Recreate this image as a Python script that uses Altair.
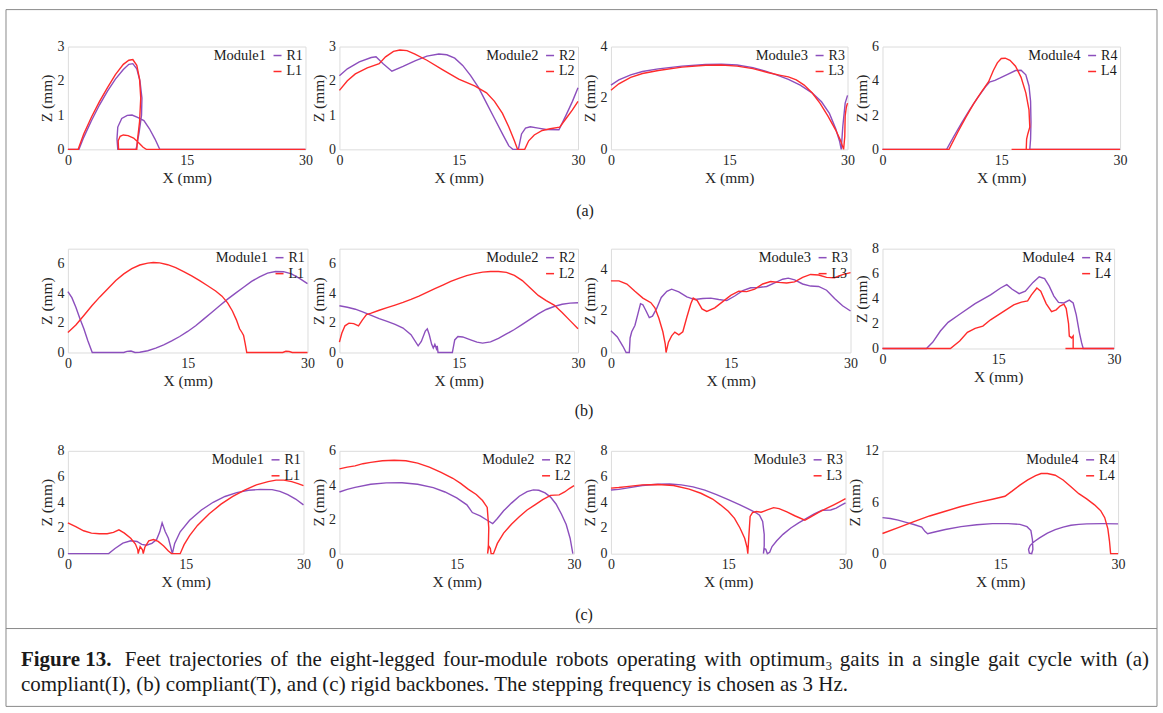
import altair as alt
import pandas as pd

FONT = "Liberation Serif"
PURPLE = "#8c4fbd"
RED = "#ff2b2b"
TXT = "#262626"

# ---------------- data: (X, Z) foot trajectories in drawing order ----------------
# row (a): compliant(I)
a1_R = [(0,0),(1.4,0),(2,0.35),(3,0.85),(4,1.3),(5,1.7),(6,2.05),(7,2.33),(7.7,2.48),(8.2,2.5),(8.7,2.35),(9.1,2.0),(9.35,1.5),(9.3,1.0),(9.0,0.5),(8.7,0.1),(8.6,0),(6.3,0),(6.2,0.3),(6.3,0.65),(6.8,0.9),(7.5,0.99),(8.1,1.0),(8.8,0.93),(9.6,0.84),(10.3,0.6),(11.0,0.3),(11.6,0),(30,0)]
a1_L = [(0,0),(1.3,0),(2,0.45),(3,0.95),(4,1.4),(5,1.8),(6,2.18),(7,2.48),(7.7,2.6),(8.2,2.62),(8.7,2.45),(9.05,2.05),(9.2,1.5),(9.05,0.8),(8.8,0.3),(8.7,0),(6.4,0),(6.35,0.25),(6.6,0.38),(7.0,0.42),(7.6,0.4),(8.3,0.33),(9.0,0.18),(9.5,0.06),(9.9,0),(30,0)]
a2_R = [(0,2.15),(1,2.35),(2.5,2.55),(4,2.68),(4.6,2.7),(5.5,2.5),(6.6,2.28),(8,2.42),(9.5,2.58),(11,2.72),(12.5,2.78),(13.5,2.76),(14.5,2.66),(15.5,2.45),(16.5,2.15),(17.5,1.8),(18.5,1.35),(19.5,0.9),(20.5,0.45),(21.3,0.1),(21.8,0),(22.5,0),(22.9,0.45),(23.4,0.62),(24,0.66),(25,0.62),(26,0.58),(27.6,0.57),(28.5,1.0),(29.3,1.4),(30,1.8)]
a2_L = [(0,1.72),(1,2.0),(2,2.2),(3.5,2.38),(5,2.5),(5.8,2.7),(6.8,2.86),(7.6,2.9),(8.5,2.88),(9.5,2.78),(11,2.6),(13,2.32),(15,2.05),(17,1.85),(18.5,1.65),(19.5,1.4),(20.5,1.05),(21.3,0.65),(22,0.25),(22.4,0),(23.3,0),(23.8,0.25),(24.5,0.42),(25.5,0.55),(26.5,0.6),(27.7,0.65),(28.5,0.9),(29.3,1.15),(30,1.4)]
a3_R = [(0,2.5),(1,2.7),(2.5,2.9),(4,3.03),(6,3.13),(9,3.24),(12,3.3),(14,3.31),(16,3.28),(18,3.18),(19.5,3.05),(21,2.9),(22.5,2.72),(24,2.5),(25.5,2.2),(26.7,1.85),(27.7,1.4),(28.5,0.8),(29.0,0.3),(29.2,0),(29.4,0.9),(29.7,1.8),(30,2.1)]
a3_L = [(0,2.3),(1,2.55),(2.5,2.8),(4,2.95),(6,3.07),(9,3.2),(12,3.27),(14,3.28),(16,3.24),(18,3.14),(20,2.98),(21.5,2.88),(22.5,2.82),(23.5,2.7),(24.5,2.5),(25.5,2.2),(26.5,1.8),(27.5,1.3),(28.5,0.75),(29.1,0.35),(29.5,0),(29.65,0.5),(29.7,1.3),(29.85,1.65),(30,1.8)]
a4_R = [(0,0),(8.1,0),(9,0.75),(10,1.55),(11,2.3),(12,3.0),(13,3.65),(13.5,3.92),(14.2,4.02),(14.8,4.15),(15.8,4.38),(16.8,4.6),(17.5,4.62),(18.1,4.35),(18.5,3.7),(18.7,2.8),(18.75,1.6),(18.7,0.6),(18.6,0),(30,0)]
a4_L = [(0,0),(8.4,0),(9.5,1.0),(10.5,1.85),(11.5,2.65),(12.5,3.35),(13.4,3.95),(14.0,4.6),(14.5,5.05),(15.0,5.3),(15.5,5.32),(16.1,5.2),(16.8,4.85),(17.5,4.2),(18.1,3.3),(18.5,2.3),(18.6,1.3),(18.35,0.9),(18.2,0.6),(18.15,0),(16.3,0),(30,0)]

# row (b): compliant(T)
b1_R = [(0,4.1),(0.5,3.7),(1.0,3.05),(1.5,2.3),(2.0,1.6),(2.5,0.8),(3.05,0),(7.0,0),(7.4,0.08),(7.9,0.1),(8.4,0.0),(9.0,0.02),(10,0.12),(11,0.3),(12,0.52),(13,0.78),(14,1.08),(15,1.42),(16,1.8),(17,2.25),(18,2.7),(19,3.15),(20,3.6),(21,4.0),(22,4.4),(23,4.8),(24,5.1),(25,5.35),(26,5.46),(27,5.45),(28,5.3),(29,5.0),(30,4.65)]
b1_L = [(0,1.35),(1,1.85),(2,2.5),(3,3.15),(4,3.75),(5,4.3),(6,4.85),(7,5.3),(8,5.65),(9,5.9),(10,6.03),(10.7,6.07),(11.5,6.04),(12.5,5.92),(13.5,5.72),(14.5,5.45),(15.5,5.17),(16.5,4.85),(17.5,4.5),(18.5,4.15),(19.3,3.8),(20,3.35),(20.6,2.8),(21.1,2.2),(21.5,1.6),(21.8,1.35),(22.0,1.15),(22.2,0.6),(22.4,0),(26.9,0),(27.3,0.08),(27.7,0.07),(28.1,0),(30,0)]
b2_R = [(0,3.15),(1,3.05),(2,2.92),(3,2.72),(4,2.5),(5,2.28),(6,2.1),(7,1.9),(8,1.65),(9,1.2),(9.9,0.45),(10.3,0.75),(10.8,1.45),(11.05,1.6),(11.3,1.2),(11.6,0.55),(11.8,0.3),(12.0,0.55),(12.2,0.25),(12.3,0.45),(12.4,0),(14.2,0),(14.5,0.85),(14.9,1.08),(15.5,1.05),(16.5,0.85),(17.3,0.7),(18,0.63),(19,0.72),(20,0.95),(21,1.25),(22,1.55),(23,1.9),(24,2.25),(25,2.6),(26,2.9),(27,3.1),(28,3.25),(29,3.33),(30,3.35)]
b2_L = [(0,0.7),(0.3,1.3),(0.7,1.8),(1.2,1.98),(1.8,1.95),(2.4,1.8),(2.9,2.2),(3.4,2.55),(4,2.65),(5,2.85),(6,3.03),(7,3.2),(8,3.38),(9,3.58),(10,3.8),(11,4.05),(12,4.3),(13,4.55),(14,4.8),(15,5.0),(16,5.18),(17,5.32),(18,5.42),(19,5.46),(20,5.46),(21,5.4),(22,5.2),(23,4.85),(24,4.35),(25,3.85),(26,3.5),(27,3.2),(28,2.7),(29,2.15),(30,1.6)]
b3_R = [(0,1.05),(0.8,0.75),(1.5,0.3),(1.9,0),(2.3,0),(2.4,0.7),(2.6,1.0),(3.0,1.3),(3.4,1.9),(3.7,2.35),(4.0,2.3),(4.4,2.0),(4.8,1.68),(5.2,1.75),(5.7,2.1),(6.3,2.65),(7.0,2.95),(7.6,3.05),(8.5,2.92),(9.5,2.68),(10.5,2.55),(11.5,2.6),(12.5,2.62),(13.5,2.55),(14.5,2.5),(15.5,2.72),(16.5,2.98),(17.5,3.12),(18.5,3.13),(19.5,3.18),(20.5,3.35),(21.5,3.53),(22.2,3.58),(23,3.5),(24,3.3),(25,3.2),(26,3.18),(27,3.0),(28,2.6),(29,2.25),(30,2.0)]
b3_L = [(0,3.45),(1,3.45),(2,3.3),(3,2.95),(4,2.62),(5,2.4),(5.5,2.15),(6,1.65),(6.5,1.0),(6.8,0.4),(6.9,0),(7.2,0.5),(7.6,0.8),(8.0,0.98),(8.5,0.85),(9.0,1.0),(9.5,1.7),(10.0,2.35),(10.3,2.62),(10.8,2.5),(11.4,2.1),(12.0,1.98),(13,2.15),(14,2.45),(15,2.75),(16,2.95),(17,2.93),(18,3.05),(19,3.3),(20,3.42),(21,3.38),(22,3.35),(23,3.4),(24,3.62),(25,3.76),(26,3.73),(27,3.62),(28,3.6),(29,3.75),(30,3.85)]
b4_R = [(0,0),(5.7,0),(6.5,0.5),(7.5,1.4),(8.5,2.1),(10,2.75),(12,3.6),(14,4.3),(15.3,4.85),(16.1,5.12),(16.8,4.75),(17.7,4.4),(18.5,4.6),(19.5,5.3),(20.3,5.75),(21,5.6),(21.6,5.0),(22.2,4.2),(22.8,3.7),(23.5,3.65),(24.2,3.88),(24.7,3.65),(25.1,2.7),(25.5,1.3),(25.8,0.45),(26.0,0),(30,0)]
b4_L = [(0,0),(8.8,0),(10,0.6),(11,1.3),(12,1.62),(13,1.8),(14,2.3),(15,2.7),(16,3.1),(17,3.5),(18,3.72),(18.8,3.82),(19.3,4.3),(20,4.85),(20.5,4.6),(21.2,3.6),(21.9,2.95),(22.5,3.1),(23.0,3.4),(23.5,3.55),(23.8,3.2),(24.1,2.0),(24.2,1.0),(24.5,0.85),(24.7,1.0),(24.7,0),(23.7,0),(30,0)]

# row (c): rigid
c1_R = [(0,0),(5.2,0),(6,0.4),(7,0.82),(8,1.0),(8.8,0.95),(9.4,0.72),(10,0.66),(10.7,0.8),(11.3,1.1),(11.7,1.7),(12.0,2.4),(12.4,1.7),(12.8,1.2),(13.1,0.5),(13.3,0),(13.6,0.8),(14.3,1.7),(15.5,2.6),(17,3.4),(18.5,4.0),(20,4.45),(21.5,4.75),(23,4.93),(24.5,5.0),(26,4.98),(27,4.85),(28,4.6),(29,4.25),(30,3.8)]
c1_L = [(0,2.4),(1,2.1),(2,1.78),(3,1.6),(4,1.55),(5,1.55),(5.8,1.65),(6.5,1.85),(7.2,1.6),(8,1.2),(8.6,0.75),(8.9,0.3),(8.95,0),(9.2,0.55),(9.5,0.3),(9.6,0),(9.8,0.5),(10.3,1.0),(10.9,1.1),(11.5,0.95),(12.2,0.6),(12.8,0.2),(13.2,0),(14.3,0),(14.8,0.7),(15.5,1.4),(16.5,2.2),(18,3.1),(19.5,3.85),(21,4.45),(22.5,4.95),(24,5.35),(25.5,5.6),(26.5,5.72),(27.5,5.72),(28.5,5.6),(29.3,5.45),(30,5.3)]
c2_R = [(0,3.6),(1,3.75),(2,3.87),(4,4.05),(6,4.13),(8,4.14),(10,4.05),(12,3.85),(13.5,3.6),(15,3.25),(16.3,2.85),(17,2.4),(18,2.2),(19,1.92),(19.6,1.75),(20.2,2.05),(21,2.5),(22,2.95),(23,3.35),(24,3.62),(24.8,3.72),(25.5,3.7),(26.3,3.55),(27,3.3),(27.7,2.9),(28.4,2.3),(29,1.7),(29.5,0.9),(29.85,0)]
c2_L = [(0,4.95),(1,5.05),(2,5.12),(3,5.25),(4,5.33),(5.5,5.42),(7,5.45),(8.5,5.42),(10,5.28),(11.5,5.05),(13,4.75),(14.5,4.4),(15.5,4.1),(16.5,3.75),(17.5,3.45),(18.3,3.1),(18.9,2.7),(19.1,1.5),(19.05,0.5),(18.95,0),(19.1,0.45),(19.3,0.3),(19.4,0),(19.7,0),(20.2,0.6),(21,1.2),(22,1.72),(23,2.15),(24,2.55),(25,2.85),(26,3.15),(27,3.4),(28.1,3.43),(28.8,3.6),(29.4,3.8),(30,3.97)]
c3_R = [(0,4.95),(1,5.0),(2,5.1),(4,5.3),(6,5.4),(7.5,5.42),(9,5.35),(10.5,5.2),(12,4.95),(13.5,4.6),(15,4.2),(16.5,3.8),(17.5,3.5),(18.5,3.2),(19.0,3.0),(19.4,2.5),(19.6,1.5),(19.6,0.6),(19.5,0),(19.6,0.4),(19.8,0.35),(20.0,0),(20.3,0.1),(20.6,0.55),(21.2,1.0),(22,1.5),(23,2.0),(24,2.4),(25,2.75),(26,3.1),(27,3.38),(28.1,3.4),(28.8,3.55),(29.4,3.75),(30,3.95)]
c3_L = [(0,5.1),(1,5.15),(2,5.22),(4,5.35),(6,5.38),(8,5.3),(10,5.02),(11.5,4.7),(13,4.25),(14,3.8),(15,3.3),(15.8,2.75),(16.5,2.0),(17.1,1.2),(17.4,0.5),(17.5,0),(17.65,1.5),(17.8,2.9),(18.1,3.2),(18.6,3.28),(19.2,3.22),(20.0,3.4),(20.8,3.58),(21.5,3.5),(22.5,3.25),(23.5,2.95),(24.8,2.6),(25.5,2.85),(26.5,3.2),(27.5,3.5),(28.5,3.8),(29.3,4.05),(30,4.28)]
c4_R = [(0,4.2),(1,4.1),(2,3.92),(3,3.65),(4,3.4),(5,3.1),(5.4,2.6),(5.75,2.33),(6.5,2.5),(8,2.82),(10,3.15),(12,3.38),(14,3.5),(16,3.5),(17.5,3.42),(18.4,3.15),(18.9,2.7),(19.1,1.6),(19.15,0.5),(19.0,0),(18.7,0.05),(18.6,0.5),(18.8,0.95),(19.3,1.4),(20,1.85),(21,2.4),(22,2.8),(23,3.1),(24,3.32),(25,3.42),(26,3.48),(28,3.5),(30,3.48)]
c4_L = [(0,2.35),(2,3.05),(4,3.75),(6,4.4),(8,4.95),(10,5.5),(12,5.95),(14,6.35),(15.6,6.7),(16.5,7.3),(17.5,8.0),(18.5,8.6),(19.5,9.1),(20.2,9.35),(21,9.35),(22,9.15),(23,8.6),(24,7.8),(25,7.0),(26,6.4),(27,5.7),(27.8,5.0),(28.3,4.2),(28.7,2.9),(28.9,1.5),(29.05,0),(30,0)]

X_TICKS = [0, 15, 30]
Y_MAX = {"a": [3, 3, 4, 6], "b": [7, 7, 5, 8], "c": [8, 6, 8, 12]}
Y_TICKS = {
    "a": [[0, 1, 2, 3], [0, 1, 2, 3], [0, 2, 4], [0, 2, 4, 6]],
    "b": [[0, 2, 4, 6], [0, 2, 4, 6], [0, 2, 4], [0, 2, 4, 6, 8]],
    "c": [[0, 2, 4, 6, 8], [0, 2, 4, 6], [0, 2, 4, 6, 8], [0, 6, 12]],
}
SERIES = {
    "a": [(a1_R, a1_L), (a2_R, a2_L), (a3_R, a3_L), (a4_R, a4_L)],
    "b": [(b1_R, b1_L), (b2_R, b2_L), (b3_R, b3_L), (b4_R, b4_L)],
    "c": [(c1_R, c1_L), (c2_R, c2_L), (c3_R, c3_L), (c4_R, c4_L)],
}
ROW_LABELS = {"a": "(a)", "b": "(b)", "c": "(c)"}
CAPTION_BOLD = "Figure 13."
CAPTION_1 = "Feet trajectories of the eight-legged four-module robots operating with optimum\u2083 gaits in a single gait cycle with (a)"
CAPTION_2 = "compliant(I), (b) compliant(T), and (c) rigid backbones. The stepping frequency is chosen as 3 Hz."

# panel plot-area sizes (pixels)
WIDTHS = {"a": [238, 239, 237, 238], "b": [240, 239, 240, 232], "c": [236, 235, 235, 236]}
HEIGHTS = {"a": [103, 103, 103, 103], "b": [104, 104, 104, 100], "c": [103, 103, 103, 103]}

ONE = pd.DataFrame({"k": [0]})
CAP = 21

# Times/Liberation Serif advance widths (1/1000 em) used to justify caption line 1
_W = dict(a=444, b=500, c=444, d=500, e=444, f=333, g=500, h=500, i=278, j=278, k=500, l=278,
          m=778, n=500, o=500, p=500, q=500, r=333, s=389, t=278, u=500, v=500, w=722, x=500,
          y=500, z=444)
_W.update({"F": 556, "(": 333, ")": 333, "-": 333, "\u2083": 300})


def word_width(wd, size):
    return sum(_W.get(ch, 500) for ch in wd) * size / 1000.0


def text_mark(txt, x, y, size, weight="normal", align="left", baseline="alphabetic"):
    return alt.Chart(ONE).mark_text(
        text=txt, font=FONT, fontSize=size, fontWeight=weight, color="#1a1a1a",
        align=align, baseline=baseline,
    ).encode(x=alt.value(x), y=alt.value(y))


def justified_line(txt, x0, x1, y, size):
    words = txt.split(" ")
    widths = [word_width(w, size) for w in words]
    gap = (x1 - x0 - sum(widths)) / (len(words) - 1)
    out, pos = [], x0
    for w, wd in zip(words, widths):
        out.append(text_mark(w, round(pos, 1), y, size))
        pos += wd + gap
    return out


AX = dict(grid=False, ticks=False, domain=False, labelFont=FONT, labelFontSize=14,
          labelColor=TXT, titleFont=FONT, titleFontSize=15.5, titleFontWeight="normal",
          titleColor=TXT, labelFlush=False, labelOverlap=False)


def panel(row, j):
    k = j + 1
    rpts, lpts = SERIES[row][j]
    rn, ln = f"R{k}", f"L{k}"
    rows = [{"x": x, "z": z, "s": rn, "i": i} for i, (x, z) in enumerate(rpts)]
    rows += [{"x": x, "z": z, "s": ln, "i": i} for i, (x, z) in enumerate(lpts)]
    df = pd.DataFrame(rows)
    enc = dict(
        x=alt.X("x:Q", scale=alt.Scale(domain=[0, 30], nice=False, zero=False),
                axis=alt.Axis(values=X_TICKS, title="X (mm)", labelPadding=4, titlePadding=3, **AX)),
        y=alt.Y("z:Q", scale=alt.Scale(domain=[0, Y_MAX[row][j]], nice=False),
                axis=alt.Axis(values=Y_TICKS[row][j], title="Z (mm)", labelPadding=4, titlePadding=2, **AX)),
        color=alt.Color("s:N", scale=alt.Scale(domain=[rn, ln], range=[PURPLE, RED]),
                        legend=alt.Legend(
                            title=f"Module{k}", titleOrient="left", titleAnchor="start",
                            titleBaseline="top", orient="top-right",
                            offset=2, padding=0, symbolType="stroke", symbolSize=64,
                            symbolStrokeWidth=1.5, labelFont=FONT, labelFontSize=14,
                            labelColor="#1a1a1a", titleFont=FONT, titleFontSize=14.5,
                            titleFontWeight="normal", titleColor="#1a1a1a",
                            titlePadding=4, rowPadding=2, labelOffset=2)),
        order=alt.Order("i:Q"),
    )
    base = alt.Chart(df)
    lr = base.transform_filter(alt.datum.s == rn).mark_line(strokeWidth=1.4).encode(**enc)
    ll = base.transform_filter(alt.datum.s == ln).mark_line(strokeWidth=1.4).encode(**enc)
    layers = [lr, ll]
    if j == 0 and row == "a":
        # figure frame, caption separator, row labels and caption (relative to panel a1 origin)
        frame = alt.Chart(ONE).mark_rect(filled=False, fillOpacity=0, stroke="#8a8a8a", strokeWidth=1).encode(
            x=alt.value(-62), x2=alt.value(1091), y=alt.value(-37), y2=alt.value(661))
        sep = alt.Chart(ONE).mark_rule(stroke="#8a8a8a", strokeWidth=1).encode(
            x=alt.value(-62), x2=alt.value(1091), y=alt.value(583))
        layers += [frame, sep,
                   text_mark(ROW_LABELS["a"], 518, 165, 16, align="center", baseline="middle"),
                   text_mark(ROW_LABELS["b"], 517, 365, 16, align="center", baseline="middle"),
                   text_mark(ROW_LABELS["c"], 517, 569, 16, align="center", baseline="middle"),
                   text_mark(CAPTION_BOLD, -47, 621, CAP, weight="bold"),
                   text_mark(CAPTION_2, -47, 646, CAP)]
        layers += justified_line(CAPTION_1, 57, 1083, 621, CAP)
    return alt.layer(*layers).properties(width=WIDTHS[row][j], height=HEIGHTS[row][j])


panels = [panel(r, j) for r in ["a", "b", "c"] for j in range(4)]

chart = alt.ConcatChart(
    concat=panels, columns=4, spacing={"row": 98.5, "column": 32},
    bounds="flush", align="all",
).resolve_scale(color="independent").resolve_legend(color="independent").configure_view(
    stroke="#dcdcdc", strokeWidth=1
).properties(
    padding={"left": 5, "top": 8, "right": 5, "bottom": 7}, background="white"
)

chart.save("out.html", embed_options={"renderer": "svg", "actions": False})
